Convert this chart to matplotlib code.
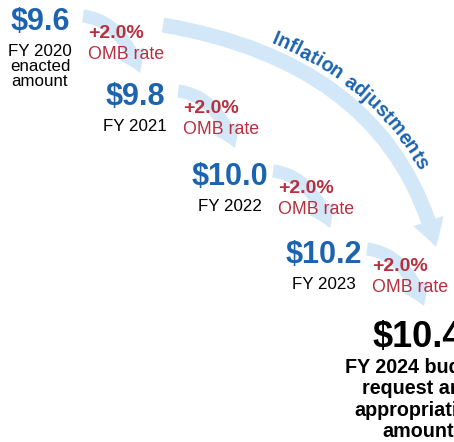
import numpy as np
import matplotlib.pyplot as plt
from matplotlib.patches import FancyArrowPatch
from matplotlib.path import Path

plt.rcParams['font.family'] = ['Liberation Sans', 'DejaVu Sans']

# values
years = ['FY 2020', 'FY 2021', 'FY 2022', 'FY 2023']
amounts = [9.6, 9.8, 10.0, 10.2]
rates = [2.0, 2.0, 2.0, 2.0]
first_extra = ['enacted', 'amount']
final_amount = 10.4
final_lines = ['FY 2024 budget', 'request and', 'appropriation', 'amount']
arc_label = 'Inflation adjustments'

BLUE = '#1c64b0'
RED = '#b7303f'
ARROW = '#d2e8f8'

# layout in pixels (x right, y down)
val_x = [40, 135, 230, 324]
val_y = [30, 105, 185, 263]
fin_x, fin_y = 418, 347

W, H = 454, 442
fig = plt.figure(figsize=(W / 100, H / 100), dpi=100)
ax = fig.add_axes([0, 0, 1, 1])
ax.set_xlim(0, W)
ax.set_ylim(H, 0)
ax.axis('off')


def arrow(p0, p1, p2, tail, hw, hl):
    path = Path([p0, p1, p2], [Path.MOVETO, Path.CURVE3, Path.CURVE3])
    style = 'simple,tail_width=%g,head_width=%g,head_length=%g' % (tail, hw, hl)
    # mutation_scale 0.72 -> one unit is one pixel at 100 dpi
    ax.add_patch(FancyArrowPatch(path=path, arrowstyle=style, mutation_scale=0.72,
                                 color=ARROW, lw=0, zorder=1))


# small arrows from one year to the next
for i in range(len(amounts)):
    sx, sy = val_x[i] + 43, val_y[i] - 14
    ex, ey = val_x[i] + 100, val_y[i] + 43
    cx, cy = sx + 0.68 * (ex - sx), sy + 0.08 * (ey - sy)
    arrow((sx, sy), (cx, cy), (ex, ey), 13, 28, 21)

# big arc
B0 = np.array([163.0, 25.0])
B1 = np.array([390.0, 64.0])
B2 = np.array([436.0, 247.0])
arrow(B0, B1, B2, 15, 32, 27)

# labels for each year
for i in range(len(amounts)):
    ax.text(val_x[i], val_y[i], '$%.1f' % amounts[i], ha='center', va='baseline',
            fontsize=22, fontweight='bold', color=BLUE, zorder=3)
    ax.text(val_x[i], val_y[i] + 26, years[i], ha='center', va='baseline',
            fontsize=12.2, color='black', zorder=3)
    ax.text(val_x[i] + 48, val_y[i] + 8, '+%.1f%%' % rates[i], ha='left', va='baseline',
            fontsize=14, fontweight='bold', color=RED, zorder=3)
    ax.text(val_x[i] + 48, val_y[i] + 29, 'OMB rate', ha='left', va='baseline',
            fontsize=12.8, color=RED, zorder=3)

for k, line in enumerate(first_extra):
    ax.text(val_x[0], val_y[0] + 41 + 15.5 * k, line, ha='center', va='baseline',
            fontsize=12.2, color='black', zorder=3)

# final amount (runs off the right edge, as in the source)
ax.text(fin_x, fin_y, '$%.1f' % final_amount, ha='center', va='baseline',
        fontsize=26, fontweight='bold', color='black', zorder=3)
for k, line in enumerate(final_lines):
    ax.text(fin_x, fin_y + 26 + 21.3 * k, line, ha='center', va='baseline',
            fontsize=14.2, fontweight='bold', color='black', zorder=3)

# curved label along the outside of the big arc
t = np.linspace(0, 1, 4001)
pts = ((1 - t) ** 2)[:, None] * B0 + (2 * (1 - t) * t)[:, None] * B1 + (t ** 2)[:, None] * B2
tan = (2 * (1 - t))[:, None] * (B1 - B0) + (2 * t)[:, None] * (B2 - B1)
tan = tan / np.hypot(tan[:, 0], tan[:, 1])[:, None]
nrm = np.column_stack([tan[:, 1], -tan[:, 0]])
off = pts + nrm * 11.5
arc = np.concatenate([[0], np.cumsum(np.hypot(*np.diff(off, axis=0).T))])

start = np.argmin(np.hypot(off[:, 0] - 271, off[:, 1] - 42))
s0 = arc[start]

rend = fig.canvas.get_renderer()
FS_ARC = 14.2


def text_w(s):
    tt = ax.text(0, 0, s, fontsize=FS_ARC, fontweight='bold')
    w = tt.get_window_extent(rend).width
    tt.remove()
    return w


for k, ch in enumerate(arc_label):
    if ch == ' ':
        continue
    sc = s0 + text_w(arc_label[:k + 1]) - text_w(ch) / 2
    j = min(np.searchsorted(arc, sc), len(arc) - 1)
    ang = np.degrees(np.arctan2(-tan[j, 1], tan[j, 0]))
    ax.text(off[j, 0], off[j, 1], ch, ha='center', va='baseline', rotation=ang,
            rotation_mode='anchor', fontsize=FS_ARC, fontweight='bold', color=BLUE, zorder=3)

fig.savefig('out.png', dpi=100)
